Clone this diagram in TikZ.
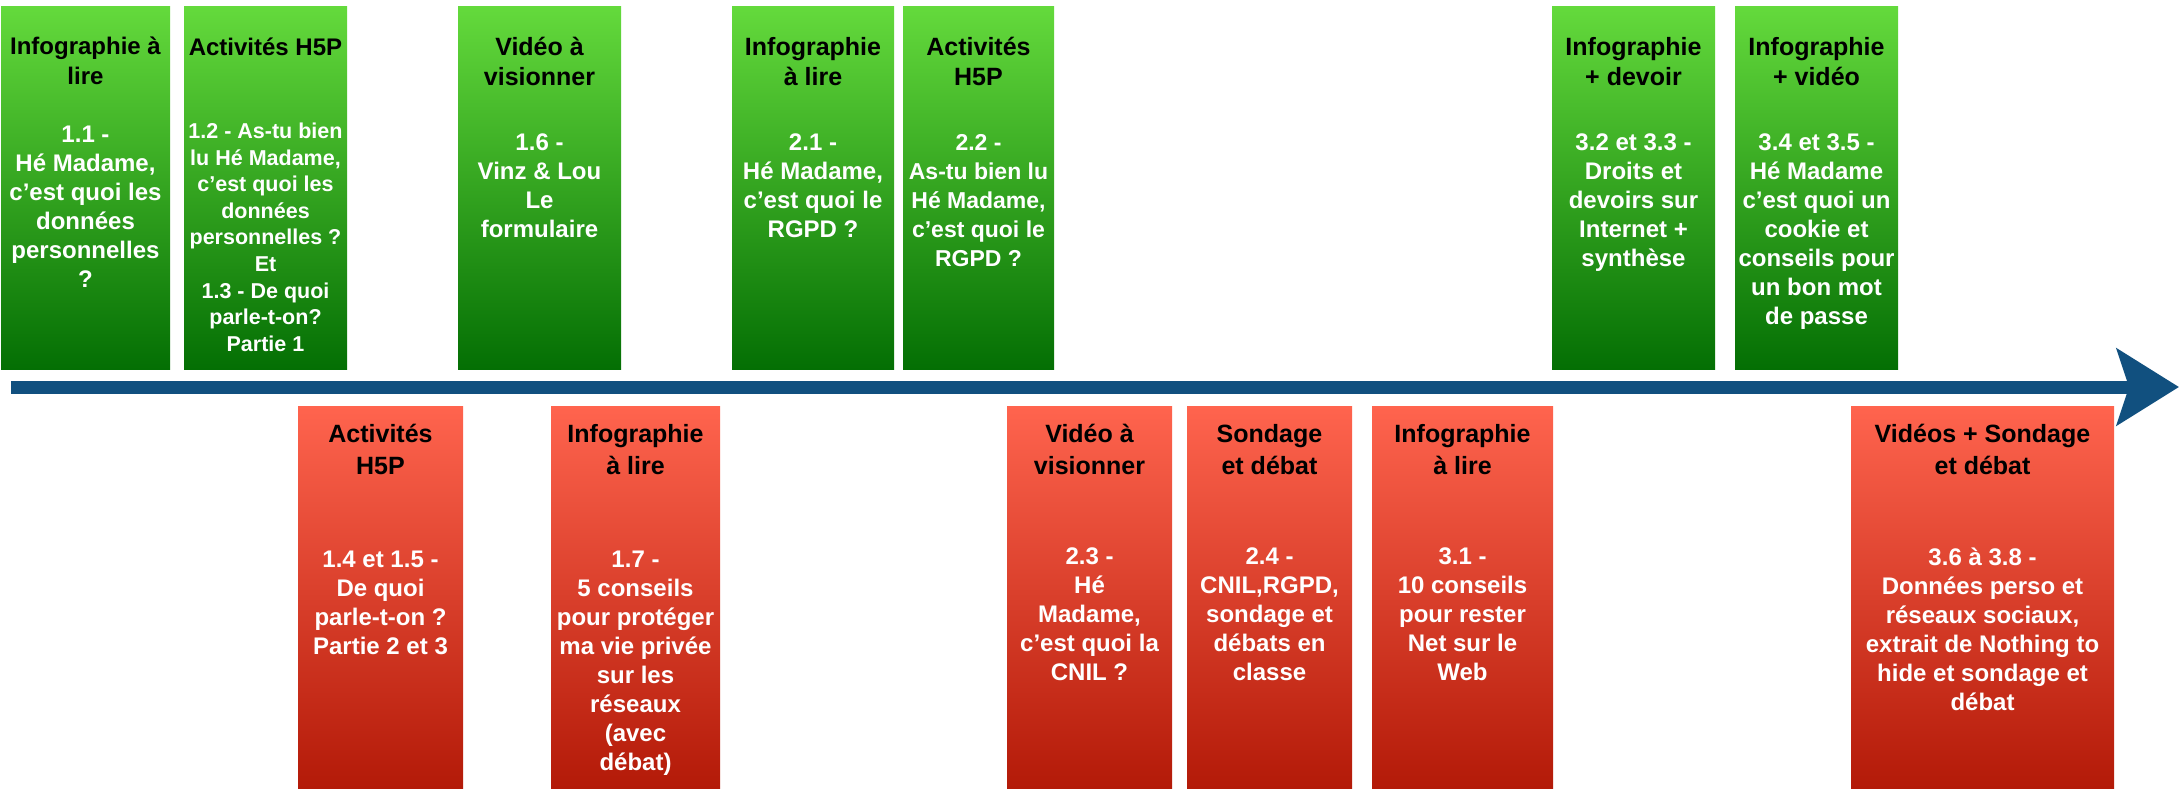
\documentclass[tikz,border=0pt]{standalone}
\usepackage{fontspec}
\setmainfont{Liberation Sans}
\usepackage{xcolor}
\usepackage{tikz}
\usetikzlibrary{positioning, arrows.meta}
\definecolor{gTop}{HTML}{64DA3C}
\definecolor{gBottom}{HTML}{046F04}
\definecolor{rTop}{HTML}{FF644E}
\definecolor{rBottom}{HTML}{B31A08}
\definecolor{tBlue}{HTML}{11507F}
\tikzset{
  greencell/.style={rectangle, inner sep=0pt, minimum height=181.5pt,
    top color=gTop, bottom color=gBottom},
  redcell/.style={rectangle, inner sep=0pt, minimum height=191pt,
    top color=rTop, bottom color=rBottom},
  headtxt/.style={inner sep=0pt, align=center, text=black,
    font=\bfseries\fontsize{12.5}{15}\selectfont},
  redhead/.style={headtxt, font=\bfseries\fontsize{12.5}{16}\selectfont},
  bodytxt/.style={inner sep=0pt, align=center, text=white,
    font=\bfseries\fontsize{12}{14.5}\selectfont},
}

\begin{document}
\begin{tikzpicture}[x=0.5pt, y=-0.5pt]
  \useasboundingbox (0,0) rectangle (2183,788);
  % top row (green)
  \node[greencell, minimum width=84.5pt] (g1) at (85.5,187.5) {};
  \node[greencell, minimum width=81.5pt] (g2) at (265.5,187.5) {};
  \node[greencell, minimum width=81.5pt] (g3) at (539.5,187.5) {};
  \node[greencell, minimum width=81pt] (g4) at (813,187.5) {};
  \node[greencell, minimum width=75.5pt] (g5) at (978.5,187.5) {};
  \node[greencell, minimum width=81.5pt] (g6) at (1633.5,187.5) {};
  \node[greencell, minimum width=81.5pt] (g7) at (1816.5,187.5) {};

  \node[headtxt, font=\bfseries\fontsize{12}{15}\selectfont, below=15.5pt of g1.north] (g1h) {Infographie à\\lire};
  \node[bodytxt, below=60pt of g1.north] (g1b) {1.1 -\\Hé Madame,\\c’est quoi les\\données\\personnelles\\?};
  \node[headtxt, font=\bfseries\fontsize{12}{15}\selectfont, below=16pt of g2.north] (g2h) {Activités H5P};
  \node[bodytxt, font=\bfseries\fontsize{10.75}{13.3}\selectfont, below=58.5pt of g2.north] (g2b)
    {1.2 - As-tu bien\\lu Hé Madame,\\c’est quoi les\\données\\personnelles ?\\Et\\1.3 - De quoi\\parle-t-on?\\Partie 1};
  \node[headtxt, below=15.5pt of g3.north] (g3h) {Vidéo à\\visionner};
  \node[bodytxt, below=64pt of g3.north] (g3b) {1.6 -\\Vinz \& Lou\\Le\\formulaire};
  \node[headtxt, below=15.5pt of g4.north] (g4h) {Infographie\\à lire};
  \node[bodytxt, below=64pt of g4.north] (g4b) {2.1 -\\Hé Madame,\\c’est quoi le\\RGPD ?};
  \node[headtxt, below=15.5pt of g5.north] (g5h) {Activités\\H5P};
  \node[bodytxt, font=\bfseries\fontsize{11.5}{14.5}\selectfont, below=64pt of g5.north] (g5b)
    {2.2 -\\As-tu bien lu\\Hé Madame,\\c’est quoi le\\RGPD ?};
  \node[headtxt, below=15.5pt of g6.north] (g6h) {Infographie\\+ devoir};
  \node[bodytxt, below=64pt of g6.north] (g6b) {3.2 et 3.3 -\\Droits et\\devoirs sur\\Internet +\\synthèse};
  \node[headtxt, below=15.5pt of g7.north] (g7h) {Infographie\\+ vidéo};
  \node[bodytxt, below=64pt of g7.north] (g7b)
    {3.4 et 3.5 -\\Hé Madame\\c’est quoi un\\cookie et\\conseils pour\\un bon mot\\de passe};

  % timeline
  \coordinate (tlStart) at (11,387);
  \coordinate (tlEnd) at (2179,387);
  \draw[tBlue, line width=6.5pt, -{Stealth[length=31pt, width=38pt, inset=6pt]}] (tlStart) -- (tlEnd);

  % bottom row (red)
  \node[redcell, minimum width=82.5pt] (r1) at (380.5,597) {};
  \node[redcell, minimum width=84.5pt] (r2) at (635.5,597) {};
  \node[redcell, minimum width=82.5pt] (r3) at (1089.5,597) {};
  \node[redcell, minimum width=82.5pt] (r4) at (1269.5,597) {};
  \node[redcell, minimum width=90.5pt] (r5) at (1462.5,597) {};
  \node[redcell, minimum width=131.5pt] (r6) at (1982.5,597) {};

  \node[redhead, below=9pt of r1.north] (r1h) {Activités\\H5P};
  \node[bodytxt, below=72.5pt of r1.north] (r1b) {1.4 et 1.5 -\\De quoi\\parle-t-on ?\\Partie 2 et 3};
  \node[redhead, below=9pt of r2.north] (r2h) {Infographie\\à lire};
  \node[bodytxt, below=72.5pt of r2.north] (r2b)
    {1.7 -\\5 conseils\\pour protéger\\ma vie privée\\sur les\\réseaux\\(avec\\débat)};
  \node[redhead, below=9pt of r3.north] (r3h) {Vidéo à\\visionner};
  \node[bodytxt, below=71pt of r3.north] (r3b) {2.3 -\\Hé\\Madame,\\c’est quoi la\\CNIL ?};
  \node[redhead, below=9pt of r4.north] (r4h) {Sondage\\et débat};
  \node[bodytxt, below=71pt of r4.north] (r4b) {2.4 -\\CNIL,RGPD,\\sondage et\\débats en\\classe};
  \node[redhead, below=9pt of r5.north] (r5h) {Infographie\\à lire};
  \node[bodytxt, below=71pt of r5.north] (r5b) {3.1 -\\10 conseils\\pour rester\\Net sur le\\Web};
  \node[redhead, below=9pt of r6.north] (r6h) {Vidéos + Sondage\\et débat};
  \node[bodytxt, below=71pt of r6.north] (r6b)
    {3.6 à 3.8 -\\Données perso et\\réseaux sociaux,\\extrait de Nothing to\\hide et sondage et\\débat};
\end{tikzpicture}
\end{document}
